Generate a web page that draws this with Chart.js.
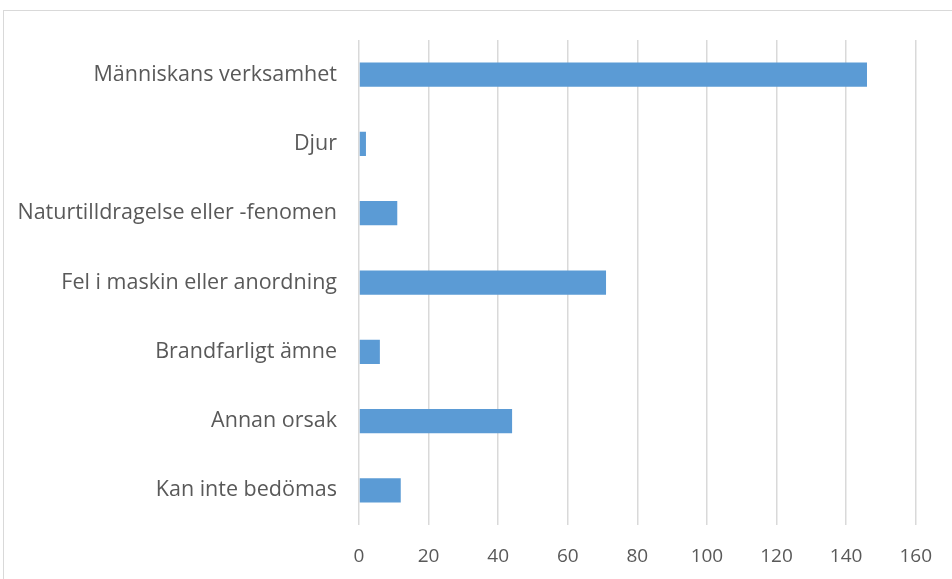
<!DOCTYPE html>
<html>
<head>
<meta charset="utf-8">
<script src="https://cdn.jsdelivr.net/npm/chart.js@4.4.0/dist/chart.umd.min.js"></script>
<style>
  html, body { margin:0; padding:0; background:#fff; overflow:hidden; }
  #wrap { position:relative; width:952px; height:579px; }
</style>
</head>
<body>
<div id="wrap"><canvas id="chart" width="952" height="579"></canvas></div>
<script>
const categories = [
  "Människans verksamhet",
  "Djur",
  "Naturtilldragelse eller -fenomen",
  "Fel i maskin eller anordning",
  "Brandfarligt ämne",
  "Annan orsak",
  "Kan inte bedömas"
];
const values = [146, 2, 11, 71, 6, 44, 12];
const xMin = 0, xMax = 160, xStep = 20;

// outer frame like the spreadsheet chart border
const framePlugin = {
  id: "frame",
  beforeDraw(chart){
    const c = chart.ctx;
    c.save();
    c.strokeStyle = "#d9d9d9";
    c.lineWidth = 1;
    c.strokeRect(3.5, 10.5, 1000, 1000);
    c.restore();
  }
};

const ctx = document.getElementById("chart").getContext("2d");
new Chart(ctx, {
  type: "bar",
  data: {
    labels: categories,
    datasets: [{
      data: values,
      backgroundColor: "#5b9bd5",
      borderWidth: 0,
      barPercentage: 0.35,
      categoryPercentage: 1
    }]
  },
  options: {
    indexAxis: "y",
    responsive: false,
    animation: false,
    layout: { padding: { left: 0, right: 33, top: 40, bottom: 0 } },
    plugins: { legend: { display: false }, tooltip: { enabled: false } },
    scales: {
      x: {
        min: xMin, max: xMax,
        ticks: { stepSize: xStep, padding: 20, color: "#595959", font: { family: "Open Sans", size: 19 } },
        grid: { color: "#d9d9d9", lineWidth: 1.5, drawTicks: false },
        border: { display: false },
        afterFit(scale){ scale.height = 54; }
      },
      y: {
        ticks: { padding: 22, color: "#595959", font: { family: "Open Sans", size: 21.5 } },
        grid: { display: false, drawTicks: false },
        border: { display: false },
        afterFit(scale){ scale.width = 359; }
      }
    }
  },
  plugins: [framePlugin]
});
</script>
</body>
</html>
